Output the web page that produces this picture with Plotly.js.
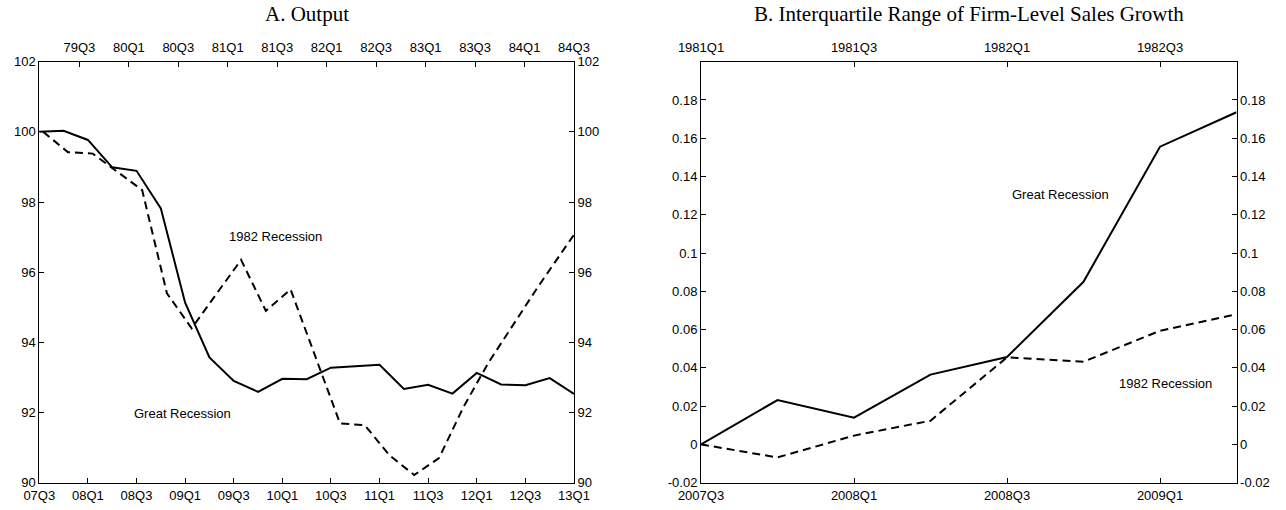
<!DOCTYPE html>
<html>
<head>
<meta charset="utf-8">
<script src="https://cdn.plot.ly/plotly-3.0.1.min.js"></script>
<style>
html,body{margin:0;padding:0;background:#ffffff;}
#chart{width:1286px;height:510px;}
</style>
</head>
<body>
<div id="chart"></div>
<script>
// ---------- Panel A: Output (index, start = 100) ----------
const outQuartersGR = ['07Q3','07Q4','08Q1','08Q2','08Q3','08Q4','09Q1','09Q2','09Q3','09Q4',
  '10Q1','10Q2','10Q3','10Q4','11Q1','11Q2','11Q3','11Q4','12Q1','12Q2','12Q3','12Q4','13Q1'];
const outGR = [100.00,100.03,99.77,98.99,98.89,97.82,95.13,93.57,92.90,92.59,
  92.96,92.95,93.28,93.33,93.36,92.67,92.79,92.54,93.13,92.80,92.78,92.98,92.53];
const outQuarters82 = ['79Q1','79Q2','79Q3','79Q4','80Q1','80Q2','80Q3','80Q4','81Q1','81Q2',
  '81Q3','81Q4','82Q1','82Q2','82Q3','82Q4','83Q1','83Q2','83Q3','83Q4','84Q1','84Q2','84Q3'];
const out82 = [100.00,99.42,99.38,98.85,98.34,95.40,94.40,95.38,96.35,94.90,
  95.51,93.60,91.69,91.64,90.78,90.22,90.70,92.17,93.42,94.50,95.58,96.60,97.62];
const outBottomLabels = ['07Q3','08Q1','08Q3','09Q1','09Q3','10Q1','10Q3','11Q1','11Q3','12Q1','12Q3','13Q1'];
const outTopLabels = ['79Q3','80Q1','80Q3','81Q1','81Q3','82Q1','82Q3','83Q1','83Q3','84Q1','84Q3'];
const outYTicks = [90,92,94,96,98,100,102];

// ---------- Panel B: Interquartile range of firm-level sales growth ----------
const irQuartersGR = ['2007Q3','2007Q4','2008Q1','2008Q2','2008Q3','2008Q4','2009Q1','2009Q2'];
const irGR = [0.0000,0.0232,0.0140,0.0365,0.0457,0.0850,0.1556,0.1736];
const irQuarters82 = ['1981Q1','1981Q2','1981Q3','1981Q4','1982Q1','1982Q2','1982Q3','1982Q4'];
const ir82 = [0.0000,-0.0068,0.0046,0.0124,0.0455,0.0432,0.0594,0.0680];
const irBottomLabels = ['2007Q3','2008Q1','2008Q3','2009Q1'];
const irTopLabels = ['1981Q1','1981Q3','1982Q1','1982Q3'];
const irYTicks = [-0.02,0,0.02,0.04,0.06,0.08,0.1,0.12,0.14,0.16,0.18];
const irYTickText = ['-0.02','0','0.02','0.04','0.06','0.08','0.1','0.12','0.14','0.16','0.18'];

// ---------- layout geometry ----------
const W = 1286, H = 510;
const A_L = 39.3, A_R = 574, B_L = 701, B_R = 1236.5, P_T = 61.7, P_B = 482.7;
const xDomA = [A_L / W, A_R / W];
const xDomB = [B_L / W, B_R / W];
const yDom = [(H - P_B) / H, (H - P_T) / H];
const TOP_SHIFT_A = 0.54;   // top axis of panel A is offset against the 1982 points
const TOP_SPAN_A = 21.62;   // width of panel A's top axis in quarters

const idxGR = outQuartersGR.map((q, i) => i);
const idx82 = outQuarters82.map((q, i) => i);
const bottomValsA = outBottomLabels.map(l => outQuartersGR.indexOf(l));
const topValsA = outTopLabels.map(l => outQuarters82.indexOf(l) - TOP_SHIFT_A);
const topRightA = outQuarters82.indexOf('84Q3') - TOP_SHIFT_A;
const topLeftA = topRightA - TOP_SPAN_A;

const irIdxGR = irQuartersGR.map((q, i) => i);
const irIdx82 = irQuarters82.map((q, i) => i);
const bottomValsB = irBottomLabels.map(l => irQuartersGR.indexOf(l));
const topValsB = irTopLabels.map(l => irQuarters82.indexOf(l));

const tickFont = {family: 'Liberation Sans, Arial, Helvetica, sans-serif', size: 13, color: '#000'};
const titleFont = {family: 'Liberation Serif, Times New Roman, serif', size: 21, color: '#000'};
const axBase = {
  showline: true, linecolor: '#000', linewidth: 1, mirror: false,
  ticks: 'inside', ticklen: 5, tickwidth: 1, tickcolor: '#000',
  showgrid: false, zeroline: false, tickfont: tickFont, fixedrange: true,
  tickmode: 'array'
};

const solid = {color: '#000', width: 2};
const dashed = {color: '#000', width: 2, dash: '8px,5px'};

const traces = [
  {x: idxGR, y: outGR, xaxis: 'x', yaxis: 'y', mode: 'lines', line: solid, hoverinfo: 'skip', showlegend: false},
  {x: idx82, y: out82, xaxis: 'x3', yaxis: 'y3', mode: 'lines', line: dashed, hoverinfo: 'skip', showlegend: false},
  {x: irIdxGR, y: irGR, xaxis: 'x2', yaxis: 'y2', mode: 'lines', line: solid, hoverinfo: 'skip', showlegend: false},
  {x: irIdx82, y: ir82, xaxis: 'x4', yaxis: 'y4', mode: 'lines', line: dashed, hoverinfo: 'skip', showlegend: false}
];

const layout = {
  width: W, height: H,
  margin: {l: 0, r: 0, t: 0, b: 0},
  paper_bgcolor: '#fff', plot_bgcolor: '#fff',
  showlegend: false,
  xaxis: Object.assign({}, axBase, {domain: xDomA, anchor: 'y', range: [0, outQuartersGR.length - 1],
    tickvals: bottomValsA, ticktext: outBottomLabels, side: 'bottom', ticklabelstandoff: 1}),
  yaxis: Object.assign({}, axBase, {domain: yDom, anchor: 'x', range: [90, 102],
    tickvals: outYTicks, ticktext: outYTicks.map(String), side: 'left'}),
  xaxis3: Object.assign({}, axBase, {overlaying: 'x', anchor: 'y', side: 'top',
    range: [topLeftA, topRightA], tickvals: topValsA, ticktext: outTopLabels, ticklabelstandoff: 4}),
  yaxis3: Object.assign({}, axBase, {overlaying: 'y', anchor: 'x', side: 'right', range: [90, 102],
    tickvals: outYTicks, ticktext: outYTicks.map(String)}),

  xaxis2: Object.assign({}, axBase, {domain: xDomB, anchor: 'y2', range: [0, irQuartersGR.length - 1],
    tickvals: bottomValsB, ticktext: irBottomLabels, side: 'bottom', ticklabelstandoff: 1}),
  yaxis2: Object.assign({}, axBase, {domain: yDom, anchor: 'x2', range: [-0.02, 0.2],
    tickvals: irYTicks, ticktext: irYTickText, side: 'left'}),
  xaxis4: Object.assign({}, axBase, {overlaying: 'x2', anchor: 'y2', side: 'top',
    range: [0, irQuarters82.length - 1], tickvals: topValsB, ticktext: irTopLabels, ticklabelstandoff: 4}),
  yaxis4: Object.assign({}, axBase, {overlaying: 'y2', anchor: 'x2', side: 'right', range: [-0.02, 0.2],
    tickvals: irYTicks, ticktext: irYTickText}),

  annotations: [
    {text: 'A. Output', xref: 'paper', yref: 'paper', x: (xDomA[0] + xDomA[1]) / 2, y: 1 - 14 / H,
      xanchor: 'center', yanchor: 'middle', showarrow: false, font: titleFont},
    {text: 'B. Interquartile Range of Firm-Level Sales Growth', xref: 'paper', yref: 'paper',
      x: (xDomB[0] + xDomB[1]) / 2, y: 1 - 14 / H, xanchor: 'center', yanchor: 'middle', showarrow: false,
      font: titleFont},
    {text: '1982 Recession', xref: 'x', yref: 'y', x: 9.72, y: 97.01, showarrow: false,
      xanchor: 'center', yanchor: 'middle', font: tickFont},
    {text: 'Great Recession', xref: 'x', yref: 'y', x: 5.88, y: 91.98, showarrow: false,
      xanchor: 'center', yanchor: 'middle', font: tickFont},
    {text: 'Great Recession', xref: 'x2', yref: 'y2', x: 4.70, y: 0.1304, showarrow: false,
      xanchor: 'center', yanchor: 'middle', font: tickFont},
    {text: '1982 Recession', xref: 'x2', yref: 'y2', x: 6.07, y: 0.0321, showarrow: false,
      xanchor: 'center', yanchor: 'middle', font: tickFont}
  ]
};

Plotly.newPlot('chart', traces, layout, {staticPlot: true, displayModeBar: false});
</script>
</body>
</html>
